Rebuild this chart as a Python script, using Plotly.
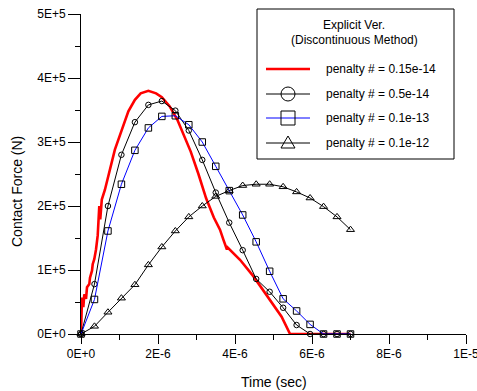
import plotly.graph_objects as go

# Time axis in microseconds (converted to seconds when plotted); force in units of 1E+5 N
t_red = [0, 0.026, 0.06, 0.086, 0.13, 0.156, 0.216, 0.234, 0.286, 0.304, 0.345, 0.39,
         0.434, 0.475, 0.50, 0.54, 0.62, 0.75, 0.88, 1.06, 1.23, 1.40, 1.55, 1.75, 1.95,
         2.10, 2.30, 2.50, 2.70, 2.85, 3.05, 3.25, 3.45, 3.61, 3.70, 3.79, 3.81, 3.92,
         4.13, 4.48, 4.91, 5.21, 5.43, 7.0]
f_red = [0, 0.57, 0.42, 0.62, 0.55, 0.73, 0.78, 0.88, 0.99, 1.09, 1.17, 1.32, 1.54,
         2.0, 1.79, 2.10, 2.25, 2.56, 2.88, 3.19, 3.48, 3.66, 3.76, 3.80, 3.76, 3.70,
         3.56, 3.35, 3.08, 2.85, 2.50, 2.12, 1.82, 1.63, 1.47, 1.32, 1.35, 1.29, 1.16,
         0.90, 0.54, 0.27, 0.0, 0.0]

t_mark = [0, 0.35, 0.70, 1.05, 1.40, 1.75, 2.10, 2.45, 2.80, 3.15, 3.50, 3.85, 4.20,
          4.55, 4.90, 5.25, 5.60, 5.95, 6.30, 6.65, 7.00]
f_circle = [0, 0.78, 2.0, 2.8, 3.31, 3.58, 3.64, 3.49, 3.18, 2.72, 2.21, 1.74, 1.31,
            0.86, 0.66, 0.41, 0.14, 0, 0, 0, 0]
f_square = [0, 0.54, 1.61, 2.34, 2.87, 3.22, 3.40, 3.41, 3.27, 3.0, 2.62, 2.24, 1.86,
            1.44, 0.98, 0.55, 0.36, 0.15, 0, 0, 0]
f_triangle = [0, 0.12, 0.34, 0.56, 0.77, 1.08, 1.36, 1.61, 1.83, 2.0, 2.15, 2.24, 2.32,
              2.34, 2.34, 2.30, 2.22, 2.125, 1.99, 1.83, 1.63]

names = ["penalty # = 0.15e-14", "penalty # = 0.5e-14",
         "penalty # = 0.1e-13", "penalty # = 0.1e-12"]
legend_title = ["Explicit Ver.", "(Discontinuous Method)"]

x_ticks = [0, 2e-6, 4e-6, 6e-6, 8e-6, 1e-5]
x_ticktext = ["0E+0", "2E-6", "4E-6", "6E-6", "8E-6", "1E-5"]
y_ticks = [0, 1e5, 2e5, 3e5, 4e5, 5e5]
y_ticktext = ["0E+0", "1E+5", "2E+5", "3E+5", "4E+5", "5E+5"]

FONT = "Liberation Sans, Arial, sans-serif"
W, H = 477, 391
ML, MR, MT, MB = 81, 11, 14, 57
PW, PH = W - ML - MR, H - MT - MB


def sec(ts):
    return [v * 1e-6 for v in ts]


def newton(fs):
    return [v * 1e5 for v in fs]


def px(x):
    """Page pixel column -> paper x."""
    return (x - ML) / PW


def py(y):
    """Page pixel row -> paper y."""
    return (H - MB - y) / PH


styles = [
    dict(color="#ff0000", width=2.6, symbol=None, size=0),
    dict(color="#000000", width=1, symbol="circle-open", size=5.5),
    dict(color="#0000ff", width=1, symbol="square-open", size=6.5),
    dict(color="#000000", width=1, symbol="triangle-up-open", size=7),
]
series = [(t_red, f_red), (t_mark, f_circle), (t_mark, f_square), (t_mark, f_triangle)]

fig = go.Figure()

for (ts, fs), st, name in zip(series, styles, names):
    kw = dict(x=sec(ts), y=newton(fs), name=name, showlegend=False, cliponaxis=False,
              line=dict(color=st["color"], width=st["width"]))
    if st["symbol"]:
        kw.update(mode="lines+markers",
                  marker=dict(symbol=st["symbol"], size=st["size"], color="black",
                              line=dict(color="black", width=1)))
    else:
        kw.update(mode="lines")
    fig.add_trace(go.Scatter(**kw))

# ---- legend box drawn with shapes and annotations ----
shapes = []
annotations = []
box = dict(x0=257, x1=454, y0=9, y1=159)
shapes.append(dict(type="rect", xref="paper", yref="paper",
                   x0=px(box["x0"]), x1=px(box["x1"]), y0=py(box["y1"]), y1=py(box["y0"]),
                   line=dict(color="black", width=1), fillcolor="white", layer="above"))
for text, row in zip(legend_title, [25, 40]):
    annotations.append(dict(text=text, xref="paper", yref="paper", x=px(354), y=py(row),
                            xanchor="center", yanchor="middle", showarrow=False,
                            font=dict(family=FONT, size=12, color="black")))

rows = [69, 94, 118, 143]
sx0, sx1, scx = 266, 310, 288
for st, name, row in zip(styles, names, rows):
    shapes.append(dict(type="line", xref="paper", yref="paper",
                       x0=px(sx0), x1=px(sx1), y0=py(row), y1=py(row),
                       line=dict(color=st["color"], width=st["width"]), layer="above"))
    sym = st["symbol"]
    if sym == "circle-open":
        shapes.append(dict(type="circle", xref="paper", yref="paper",
                           x0=px(scx - 7), x1=px(scx + 7), y0=py(row + 7), y1=py(row - 7),
                           line=dict(color="black", width=1), layer="above"))
    elif sym == "square-open":
        shapes.append(dict(type="rect", xref="paper", yref="paper",
                           x0=px(scx - 7), x1=px(scx + 7), y0=py(row + 7), y1=py(row - 7),
                           line=dict(color="black", width=1), layer="above"))
    elif sym == "triangle-up-open":
        path = "M {:.5f} {:.5f} L {:.5f} {:.5f} L {:.5f} {:.5f} Z".format(
            px(scx), py(row - 7), px(scx - 7), py(row + 5), px(scx + 7), py(row + 5))
        shapes.append(dict(type="path", xref="paper", yref="paper", path=path,
                           line=dict(color="black", width=1), layer="above"))
    annotations.append(dict(text=name, xref="paper", yref="paper", x=px(324), y=py(row),
                            xanchor="left", yanchor="middle", showarrow=False,
                            font=dict(family=FONT, size=12, color="black")))

# ---- axis titles ----
annotations.append(dict(text="Time (sec)", xref="paper", yref="paper", x=0.5, y=py(381.5),
                        xanchor="center", yanchor="middle", showarrow=False,
                        font=dict(family=FONT, size=14, color="black")))
annotations.append(dict(text="Contact Force (N)", xref="paper", yref="paper", x=px(17),
                        y=py(192), xanchor="center", yanchor="middle", showarrow=False,
                        textangle=-90, font=dict(family=FONT, size=14, color="black")))

axis_common = dict(showline=True, linecolor="black", linewidth=1, showgrid=False,
                   zeroline=False, ticks="outside", tickcolor="black", tickwidth=1,
                   tickfont=dict(family=FONT, size=12, color="black"),
                   ticklabeloverflow="allow", automargin=False)

fig.update_layout(
    width=W, height=H,
    margin=dict(l=ML, r=MR, t=MT, b=MB),
    paper_bgcolor="white", plot_bgcolor="white",
    font=dict(family=FONT, size=12, color="black"),
    showlegend=False,
    xaxis=dict(range=[0, 1e-5], tickvals=x_ticks, ticktext=x_ticktext, ticklen=9,
               minor=dict(ticks="outside", ticklen=5, tickcolor="black",
                          tickvals=[1e-6, 3e-6, 5e-6, 7e-6, 9e-6]),
               **axis_common),
    yaxis=dict(range=[0, 5e5], tickvals=y_ticks, ticktext=y_ticktext, ticklen=12,
               minor=dict(ticks="outside", ticklen=5, tickcolor="black",
                          tickvals=[0.5e5, 1.5e5, 2.5e5, 3.5e5, 4.5e5]),
               **axis_common),
    shapes=shapes,
    annotations=annotations,
)

fig.write_html("out.html")
